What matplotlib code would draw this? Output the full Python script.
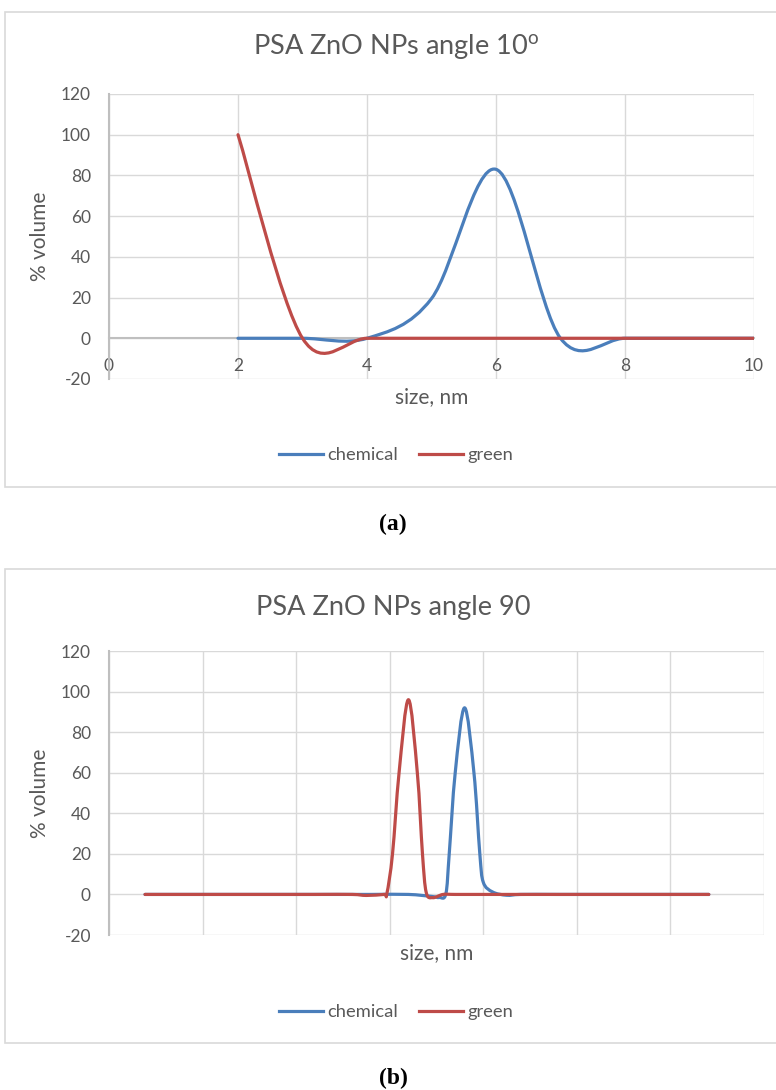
import numpy as np
import matplotlib
matplotlib.use("Agg")
import matplotlib.pyplot as plt
from matplotlib.path import Path
from matplotlib.patches import PathPatch, Rectangle
from matplotlib.lines import Line2D

# ---------------- data ----------------
# (a) angle 10
a_x = [2, 3, 4, 5, 6, 7, 8, 9, 10]
a_chemical = [0, 0, 0, 19.5, 83, 0, 0, 0, 0]
a_green = [100, 0, 0, 0, 0, 0, 0, 0, 0]
a_xticks = [0, 2, 4, 6, 8, 10]
yticks = [-20, 0, 20, 40, 60, 80, 100, 120]

# (b) angle 90 (x in grid units, no tick labels shown)
b_chem_x = [0.385, 1.0, 1.6, 2.2, 2.8, 3.2, 3.45, 3.53, 3.6, 3.636, 3.70,
            3.80, 3.90, 3.963, 4.0, 4.1, 4.25, 4.4, 4.8, 5.4, 6.0, 6.41]
b_chem_y = [0, 0, 0, 0, 0, 0, -1.0, -1.5, 0.3, 20, 60,
            92, 60, 20, 6, 1.2, -0.4, 0, 0, 0, 0, 0]
b_green_x = [0.385, 1.0, 1.6, 2.2, 2.6, 2.75, 2.94, 2.97, 3.03, 3.10, 3.20,
             3.295, 3.35, 3.39, 3.46, 3.57, 3.7, 4.0, 4.5, 5.0, 5.5, 6.0, 6.41]
b_green_y = [0, 0, 0, 0, 0, -0.5, 0, 0.5, 20, 60, 96,
             60, 20, 1, -1.6, 0, 0, 0, 0, 0, 0, 0, 0]
b_xgrid = [0, 1, 2, 3, 4, 5, 6, 7]

series_names = ["chemical", "green"]
colors = ["#4A7EBB", "#BE4B48"]

FONT = "Lato"
TXT = "#595959"
GRID = "#D9D9D9"
AXIS = "#BFBFBF"

plt.rcParams["font.family"] = [FONT, "DejaVu Sans"]
plt.rcParams["mathtext.fontset"] = "custom"
plt.rcParams["mathtext.rm"] = FONT
plt.rcParams["axes.unicode_minus"] = False

W, H = 776, 1090
fig = plt.figure(figsize=(W / 100, H / 100), dpi=100)


def smooth_path(x, y):
    pts = np.column_stack([x, y]).astype(float)
    n = len(pts)
    verts = [pts[0]]
    codes = [Path.MOVETO]
    for i in range(n - 1):
        p0 = pts[i - 1] if i > 0 else pts[i]
        p1 = pts[i]
        p2 = pts[i + 1]
        p3 = pts[i + 2] if i + 2 < n else pts[i + 1]
        c1 = p1 + (p2 - p0) / 6.0
        c2 = p2 - (p3 - p1) / 6.0
        verts += [c1, c2, p2]
        codes += [Path.CURVE4] * 3
    return Path(verts, codes)


def add_series(ax, x, y, color):
    patch = PathPatch(smooth_path(x, y), facecolor="none", edgecolor=color,
                      lw=2.3, capstyle="round", joinstyle="round", zorder=3)
    ax.add_patch(patch)


def frame(top_px, bottom_px):
    fig.patches.append(Rectangle((5 / W, 1 - bottom_px / H), 1.2,
                                 (bottom_px - top_px) / H,
                                 transform=fig.transFigure, facecolor="white",
                                 edgecolor=GRID, lw=1.2, zorder=-10))


def px_axes(l, t, r, b):
    return fig.add_axes([l / W, 1 - b / H, (r - l) / W, (b - t) / H])


def style_axes(ax):
    ax.set_ylim(-20, 120)
    ax.set_yticks(yticks)
    ax.grid(True, color=GRID, lw=1.0)
    ax.set_axisbelow(True)
    for s in ["top", "right"]:
        ax.spines[s].set_visible(False)
    ax.spines["left"].set_color(AXIS)
    ax.spines["left"].set_linewidth(1.5)
    ax.tick_params(axis="both", length=0, labelsize=12.5, labelcolor=TXT)
    ax.tick_params(axis="y", pad=13)
    ax.patch.set_alpha(0)


def legend_at(ycenter_px):
    handles = [Line2D([], [], color=c, lw=2.3) for c in colors]
    fig.legend(handles, series_names, loc="center",
               bbox_to_anchor=(396 / W, 1 - ycenter_px / H), ncol=2,
               frameon=False, fontsize=13.2, handlelength=2.4,
               handletextpad=0.25, columnspacing=1.1, labelcolor=TXT)


# ---------------- (a) ----------------
frame(12, 487)
ax1 = px_axes(109, 94, 754, 379)
style_axes(ax1)
ax1.set_xlim(0, 10)
ax1.set_xticks(a_xticks)
ax1.spines["bottom"].set_position(("data", 0))
ax1.spines["bottom"].set_color(AXIS)
ax1.spines["bottom"].set_linewidth(1.5)
ax1.tick_params(axis="x", pad=14)
add_series(ax1, a_x, a_chemical, colors[0])
add_series(ax1, a_x, a_green, colors[1])
ax1.set_ylabel("% volume", fontsize=15, color=TXT, va="center")
ax1.yaxis.set_label_coords(-0.107, 0.5)
ax1.set_xlabel("size, nm", fontsize=15, color=TXT, va="center")
ax1.xaxis.set_label_coords(0.5, -0.063)
fig.text(396 / W, 1 - 47 / H, r"PSA ZnO NPs angle 10$^{\mathrm{o}}$",
         ha="center", va="center", fontsize=19.5, color=TXT)
legend_at(455)
fig.text(393 / W, 1 - 524 / H, "(a)", ha="center", va="center",
         fontsize=17, fontweight="bold", family="Liberation Serif", color="black")

# ---------------- (b) ----------------
frame(569, 1043)
ax2 = px_axes(109, 651, 764, 935)
style_axes(ax2)
ax2.set_xlim(0, 7)
ax2.set_xticks(b_xgrid)
ax2.set_xticklabels([])
ax2.spines["bottom"].set_visible(False)
add_series(ax2, b_chem_x, b_chem_y, colors[0])
add_series(ax2, b_green_x, b_green_y, colors[1])
ax2.set_ylabel("% volume", fontsize=15, color=TXT, va="center")
ax2.yaxis.set_label_coords(-0.105, 0.5)
ax2.set_xlabel("size, nm", fontsize=15, color=TXT, va="center")
ax2.xaxis.set_label_coords(0.5, -0.063)
fig.text(393 / W, 1 - 607 / H, "PSA ZnO NPs angle 90",
         ha="center", va="center", fontsize=19.5, color=TXT)
legend_at(1012)
fig.text(393 / W, 1 - 1078 / H, "(b)", ha="center", va="center",
         fontsize=17, fontweight="bold", family="Liberation Serif", color="black")

fig.savefig("out.png", dpi=100)
